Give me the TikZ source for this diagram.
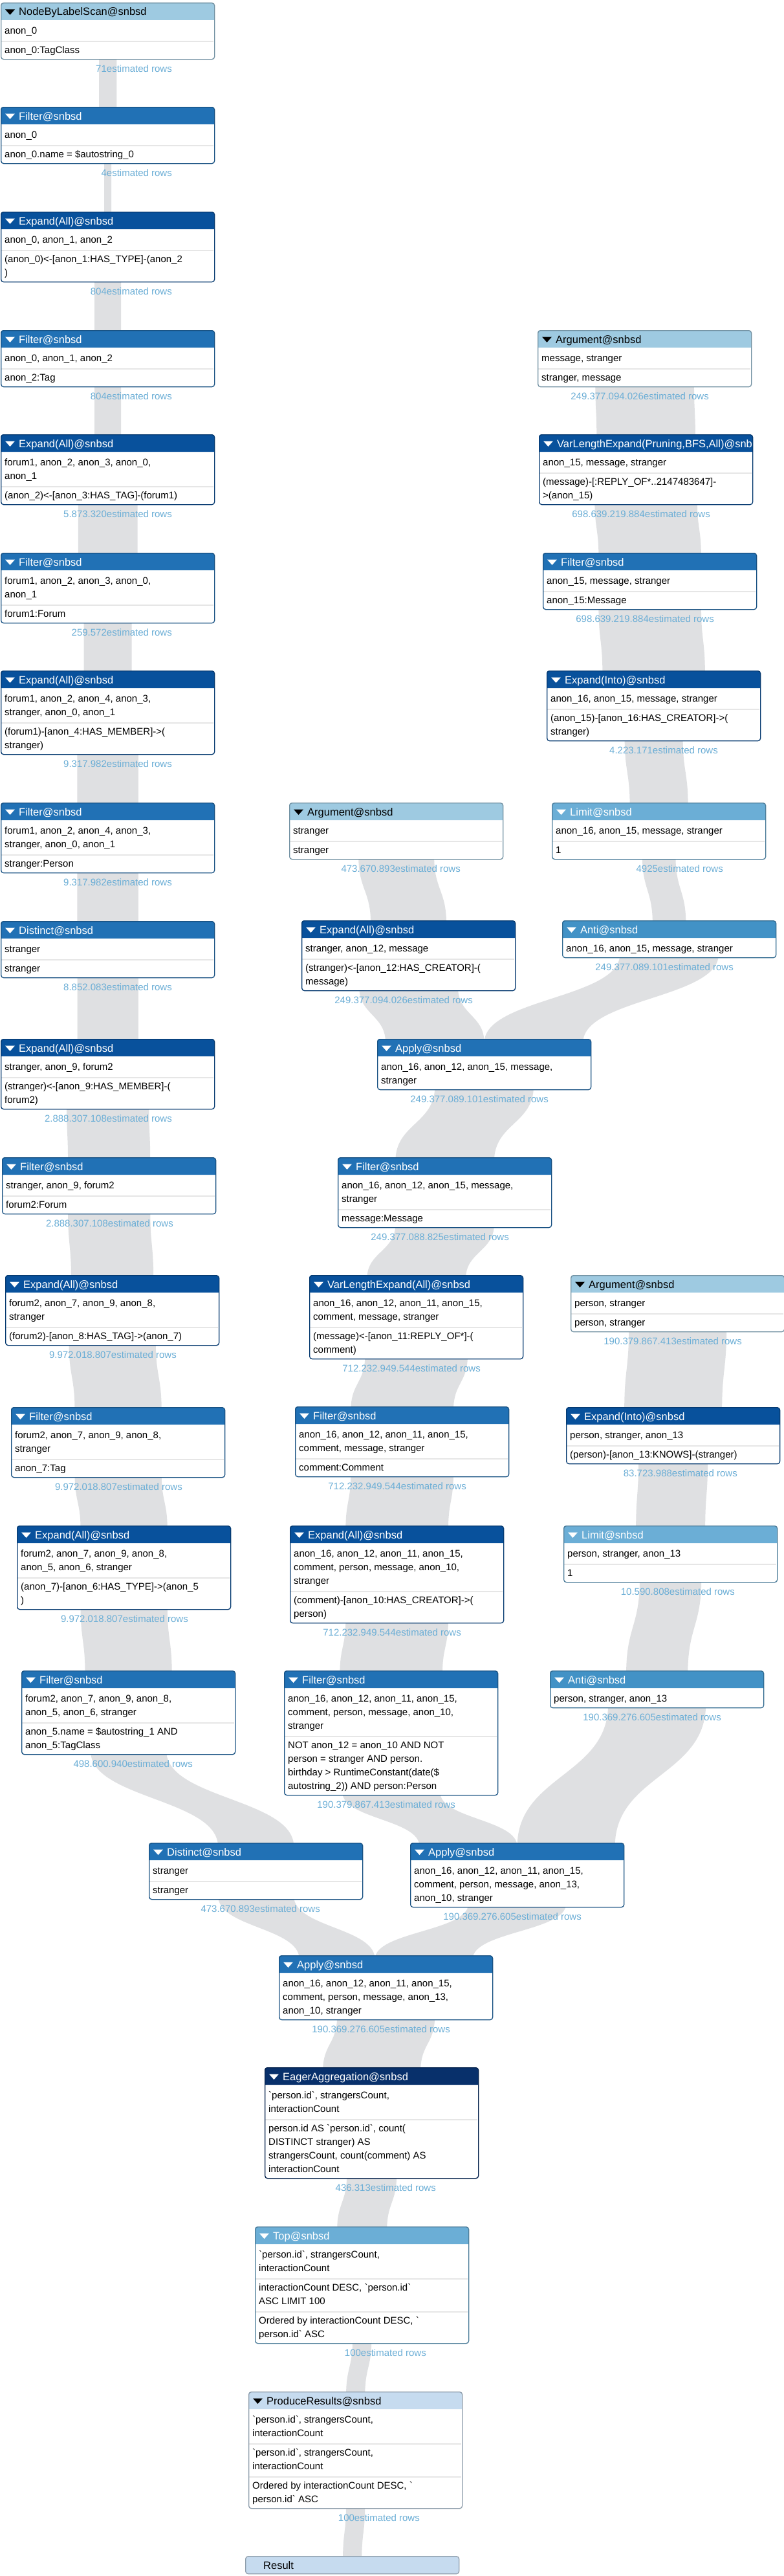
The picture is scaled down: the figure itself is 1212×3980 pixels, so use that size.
\documentclass[tikz,border=0pt]{standalone}
\usepackage{fontspec}
\newfontfamily\uifont{Liberation Sans}
\usetikzlibrary{calc}
\pgfdeclarelayer{bg}
\pgfdeclarelayer{pipes}
\pgfdeclarelayer{boxbg}
\pgfsetlayers{bg,pipes,boxbg,main}
\definecolor{cArg}{HTML}{9ECAE1}
\definecolor{cLim}{HTML}{6BAED6}
\definecolor{cAnti}{HTML}{4292C6}
\definecolor{cFil}{HTML}{2171B5}
\definecolor{cExp}{HTML}{08519C}
\definecolor{cAgg}{HTML}{08306B}
\definecolor{cPR}{HTML}{C6DBEF}
\definecolor{cPipe}{HTML}{DFE0E2}
\definecolor{cLbl}{HTML}{6BAED6}
\definecolor{cDiv}{HTML}{E6E6E6}
\newcommand\bodyfont{\uifont\fontsize{15}{21}\selectfont}
\newcommand\titlefont{\uifont\fontsize{16.5}{20}\selectfont}
\newcommand\bt{\textasciigrave}
\tikzset{
  divline/.style={draw=cDiv, line width=1.5pt},
  boxtext/.style={anchor=north west, inner sep=0pt, align=left, font=\bodyfont, text=black},
  rowlabel/.style={anchor=base east, inner sep=0pt, font=\bodyfont, text=cLbl},
  titletext/.style={anchor=base west, inner sep=0pt, font=\titlefont},
  opframe/.style={line width=1.3pt, rounded corners=4pt, inner sep=0pt, minimum width=330pt, anchor=north west},
}
% box macros
\newcommand\opstart[6]{%
  \xdef\opName{#1}\xdef\opX{#2}\xdef\opTop{#3}\xdef\opFill{#4}%
  \pgfmathsetmacro\tmpv{#3+27}\xdef\opCur{\tmpv}\xdef\opFirst{1}%
  \begin{scope}
    \clip (#2,#3) rectangle ++(330,27);
    \node[titletext, text=#5] at (#2+28,#3+20) {#6};
  \end{scope}
  \fill[fill=#5] (#2+7,#3+10.5) -- (#2+22,#3+10.5) -- (#2+14.5,#3+19) -- cycle;
}
\newcommand\oprow[2]{%
  \ifnum\opFirst=0
    \draw[divline] (\opX+1,\opCur+3) -- (\opX+329,\opCur+3);
  \fi
  \xdef\opFirst{0}%
  \node[boxtext] at (\opX+6,\opCur+6.3) {\strut #2};
  \pgfmathsetmacro\tmpv{\opCur+21*#1+9}\xdef\opCur{\tmpv}%
}
\newcommand\opend[1]{%
  \pgfmathsetmacro\opH{\opCur-\opTop}%
  \begin{pgfonlayer}{boxbg}
    \fill[white, rounded corners=4pt] (\opX,\opTop) rectangle ++(330,\opH);
    \fill[fill=\opFill, rounded corners=4pt] (\opX,\opTop+27) -- (\opX,\opTop) -- (\opX+330,\opTop) -- (\opX+330,\opTop+27);
  \end{pgfonlayer}
  \node[opframe, draw=\opFill!72!black, minimum height=\opH pt] (\opName) at (\opX,\opTop) {};
  \node[rowlabel] at (\opX+265,\opCur+20) {#1};
}
% pipes: source, target, width, left offset of band at target (relative to target centre)
\newcommand\pipe[4]{%
  \pgfmathsetmacro\pw{#3}\pgfmathsetmacro\po{#4}\pgfmathsetmacro\pe{#4+#3}%
  \begin{pgfonlayer}{pipes}
  \path[fill=cPipe] let \p1=(#1.south), \p2=(#2.north), \p3=($(#1.south)!0.5!(#2.north)$) in
    ({\x1-0.5*\pw pt},{\y1+6pt}) .. controls ({\x1-0.5*\pw pt},{\y3}) and ({\x2+\po pt},{\y3}) .. ({\x2+\po pt},{\y2-6pt})
    -- ({\x2+\pe pt},{\y2-6pt}) .. controls ({\x2+\pe pt},{\y3}) and ({\x1+0.5*\pw pt},{\y3}) .. ({\x1+0.5*\pw pt},{\y1+6pt}) -- cycle;
  \end{pgfonlayer}}
\newcommand\spipe[3]{\pipe{#1}{#2}{#3}{-(#3)/2}}
\begin{document}
\begin{tikzpicture}[x=1pt,y=-1pt]
\begin{pgfonlayer}{bg}
\fill[white] (0,0) rectangle (1212,3980);
\end{pgfonlayer}
\useasboundingbox (0,0) rectangle (1212,3980);

% ---------------- left column
\opstart{b1}{1}{4}{cArg}{black}{NodeByLabelScan@snbsd}
\oprow{1}{anon\_0}
\oprow{1}{anon\_0:TagClass}
\opend{71estimated rows}

\opstart{b2}{1}{165}{cFil}{white}{Filter@snbsd}
\oprow{1}{anon\_0}
\oprow{1}{anon\_0.name = \$autostring\_0}
\opend{4estimated rows}

\opstart{b3}{1}{327}{cExp}{white}{Expand(All)@snbsd}
\oprow{1}{anon\_0, anon\_1, anon\_2}
\oprow{2}{(anon\_0)<-[anon\_1:HAS\_TYPE]-(anon\_2\\)}
\opend{804estimated rows}

\opstart{b4}{1}{510}{cFil}{white}{Filter@snbsd}
\oprow{1}{anon\_0, anon\_1, anon\_2}
\oprow{1}{anon\_2:Tag}
\opend{804estimated rows}

\opstart{b5}{1}{671}{cExp}{white}{Expand(All)@snbsd}
\oprow{2}{forum1, anon\_2, anon\_3, anon\_0,\\anon\_1}
\oprow{1}{(anon\_2)<-[anon\_3:HAS\_TAG]-(forum1)}
\opend{5.873.320estimated rows}

\opstart{b6}{1}{854}{cFil}{white}{Filter@snbsd}
\oprow{2}{forum1, anon\_2, anon\_3, anon\_0,\\anon\_1}
\oprow{1}{forum1:Forum}
\opend{259.572estimated rows}

\opstart{b7}{1}{1036}{cExp}{white}{Expand(All)@snbsd}
\oprow{2}{forum1, anon\_2, anon\_4, anon\_3,\\stranger, anon\_0, anon\_1}
\oprow{2}{(forum1)-[anon\_4:HAS\_MEMBER]->(\\stranger)}
\opend{9.317.982estimated rows}

\opstart{b8}{1}{1240}{cFil}{white}{Filter@snbsd}
\oprow{2}{forum1, anon\_2, anon\_4, anon\_3,\\stranger, anon\_0, anon\_1}
\oprow{1}{stranger:Person}
\opend{9.317.982estimated rows}

\opstart{b9}{1}{1423}{cFil}{white}{Distinct@snbsd}
\oprow{1}{stranger}
\oprow{1}{stranger}
\opend{8.852.083estimated rows}

\opstart{b10}{1}{1605}{cExp}{white}{Expand(All)@snbsd}
\oprow{1}{stranger, anon\_9, forum2}
\oprow{2}{(stranger)<-[anon\_9:HAS\_MEMBER]-(\\forum2)}
\opend{2.888.307.108estimated rows}

\opstart{b11}{3}{1788}{cFil}{white}{Filter@snbsd}
\oprow{1}{stranger, anon\_9, forum2}
\oprow{1}{forum2:Forum}
\opend{2.888.307.108estimated rows}

\opstart{b12}{8}{1970}{cExp}{white}{Expand(All)@snbsd}
\oprow{2}{forum2, anon\_7, anon\_9, anon\_8,\\stranger}
\oprow{1}{(forum2)-[anon\_8:HAS\_TAG]->(anon\_7)}
\opend{9.972.018.807estimated rows}

\opstart{b13}{17}{2174}{cFil}{white}{Filter@snbsd}
\oprow{2}{forum2, anon\_7, anon\_9, anon\_8,\\stranger}
\oprow{1}{anon\_7:Tag}
\opend{9.972.018.807estimated rows}

\opstart{b14}{26}{2357}{cExp}{white}{Expand(All)@snbsd}
\oprow{2}{forum2, anon\_7, anon\_9, anon\_8,\\anon\_5, anon\_6, stranger}
\oprow{2}{(anon\_7)-[anon\_6:HAS\_TYPE]->(anon\_5\\)}
\opend{9.972.018.807estimated rows}

\opstart{b15}{33}{2581}{cFil}{white}{Filter@snbsd}
\oprow{2}{forum2, anon\_7, anon\_9, anon\_8,\\anon\_5, anon\_6, stranger}
\oprow{2}{anon\_5.name = \$autostring\_1 AND\\anon\_5:TagClass}
\opend{498.600.940estimated rows}

\opstart{b16}{230}{2847}{cFil}{white}{Distinct@snbsd}
\oprow{1}{stranger}
\oprow{1}{stranger}
\opend{473.670.893estimated rows}

% ---------------- middle column
\opstart{m1}{447}{1240}{cArg}{black}{Argument@snbsd}
\oprow{1}{stranger}
\oprow{1}{stranger}
\opend{473.670.893estimated rows}

\opstart{m2}{466}{1422}{cExp}{white}{Expand(All)@snbsd}
\oprow{1}{stranger, anon\_12, message}
\oprow{2}{(stranger)<-[anon\_12:HAS\_CREATOR]-(\\message)}
\opend{249.377.094.026estimated rows}

\opstart{m3}{583}{1605}{cFil}{white}{Apply@snbsd}
\oprow{2}{anon\_16, anon\_12, anon\_15, message,\\stranger}
\opend{249.377.089.101estimated rows}

\opstart{m4}{522}{1788}{cFil}{white}{Filter@snbsd}
\oprow{2}{anon\_16, anon\_12, anon\_15, message,\\stranger}
\oprow{1}{message:Message}
\opend{249.377.088.825estimated rows}

\opstart{m5}{478}{1970}{cExp}{white}{VarLengthExpand(All)@snbsd}
\oprow{2}{anon\_16, anon\_12, anon\_11, anon\_15,\\comment, message, stranger}
\oprow{2}{(message)<-[anon\_11:REPLY\_OF*]-(\\comment)}
\opend{712.232.949.544estimated rows}

\opstart{m6}{456}{2173}{cFil}{white}{Filter@snbsd}
\oprow{2}{anon\_16, anon\_12, anon\_11, anon\_15,\\comment, message, stranger}
\oprow{1}{comment:Comment}
\opend{712.232.949.544estimated rows}

\opstart{m7}{448}{2357}{cExp}{white}{Expand(All)@snbsd}
\oprow{3}{anon\_16, anon\_12, anon\_11, anon\_15,\\comment, person, message, anon\_10,\\stranger}
\oprow{2}{(comment)-[anon\_10:HAS\_CREATOR]->(\\person)}
\opend{712.232.949.544estimated rows}

\opstart{m8}{439}{2581}{cFil}{white}{Filter@snbsd}
\oprow{3}{anon\_16, anon\_12, anon\_11, anon\_15,\\comment, person, message, anon\_10,\\stranger}
\oprow{4}{NOT anon\_12 = anon\_10 AND NOT\\person = stranger AND person.\\birthday > RuntimeConstant(date(\$\\autostring\_2)) AND person:Person}
\opend{190.379.867.413estimated rows}

% ---------------- right column
\opstart{r1}{831}{510}{cArg}{black}{Argument@snbsd}
\oprow{1}{message, stranger}
\oprow{1}{stranger, message}
\opend{249.377.094.026estimated rows}

\opstart{r2}{833}{671}{cExp}{white}{VarLengthExpand(Pruning,BFS,All)@snbsd}
\oprow{1}{anon\_15, message, stranger}
\oprow{2}{(message)-[:REPLY\_OF*..2147483647]-\\>(anon\_15)}
\opend{698.639.219.884estimated rows}

\opstart{r3}{839}{854}{cFil}{white}{Filter@snbsd}
\oprow{1}{anon\_15, message, stranger}
\oprow{1}{anon\_15:Message}
\opend{698.639.219.884estimated rows}

\opstart{r4}{845}{1036}{cExp}{white}{Expand(Into)@snbsd}
\oprow{1}{anon\_16, anon\_15, message, stranger}
\oprow{2}{(anon\_15)-[anon\_16:HAS\_CREATOR]->(\\stranger)}
\opend{4.223.171estimated rows}

\opstart{r5}{853}{1240}{cLim}{white}{Limit@snbsd}
\oprow{1}{anon\_16, anon\_15, message, stranger}
\oprow{1}{1}
\opend{4925estimated rows}

\opstart{r6}{869}{1422}{cAnti}{white}{Anti@snbsd}
\oprow{1}{anon\_16, anon\_15, message, stranger}
\opend{249.377.089.101estimated rows}

\opstart{r7}{882}{1970}{cArg}{black}{Argument@snbsd}
\oprow{1}{person, stranger}
\oprow{1}{person, stranger}
\opend{190.379.867.413estimated rows}

\opstart{r8}{875}{2174}{cExp}{white}{Expand(Into)@snbsd}
\oprow{1}{person, stranger, anon\_13}
\oprow{1}{(person)-[anon\_13:KNOWS]-(stranger)}
\opend{83.723.988estimated rows}

\opstart{r9}{871}{2357}{cLim}{white}{Limit@snbsd}
\oprow{1}{person, stranger, anon\_13}
\oprow{1}{1}
\opend{10.590.808estimated rows}

\opstart{r10}{850}{2581}{cAnti}{white}{Anti@snbsd}
\oprow{1}{person, stranger, anon\_13}
\opend{190.369.276.605estimated rows}

% ---------------- bottom
\opstart{a2}{634}{2847}{cFil}{white}{Apply@snbsd}
\oprow{3}{anon\_16, anon\_12, anon\_11, anon\_15,\\comment, person, message, anon\_13,\\anon\_10, stranger}
\opend{190.369.276.605estimated rows}

\opstart{a3}{431}{3021}{cFil}{white}{Apply@snbsd}
\oprow{3}{anon\_16, anon\_12, anon\_11, anon\_15,\\comment, person, message, anon\_13,\\anon\_10, stranger}
\opend{190.369.276.605estimated rows}

\opstart{ea}{409}{3194}{cAgg}{white}{EagerAggregation@snbsd}
\oprow{2}{\bt person.id\bt, strangersCount,\\interactionCount}
\oprow{4}{person.id AS \bt person.id\bt, count(\\DISTINCT stranger) AS\\strangersCount, count(comment) AS\\interactionCount}
\opend{436.313estimated rows}

\opstart{tp}{394}{3440}{cLim}{white}{Top@snbsd}
\oprow{2}{\bt person.id\bt, strangersCount,\\interactionCount}
\oprow{2}{interactionCount DESC, \bt person.id\bt\\ASC LIMIT 100}
\oprow{2}{Ordered by interactionCount DESC, \bt\\person.id\bt{} ASC}
\opend{100estimated rows}

\opstart{pr}{384}{3695}{cPR}{black}{ProduceResults@snbsd}
\oprow{2}{\bt person.id\bt, strangersCount,\\interactionCount}
\oprow{2}{\bt person.id\bt, strangersCount,\\interactionCount}
\oprow{2}{Ordered by interactionCount DESC, \bt\\person.id\bt{} ASC}
\opend{100estimated rows}

\node[opframe, draw=cPR!72!black, fill=cPR, minimum height=27pt] (res) at (379,3949) {};
\node[titletext, text=black] (restext) at (407,3969) {Result};

% ---------------- pipes
\spipe{b1}{b2}{27.3}
\spipe{b2}{b3}{10.9}
\spipe{b3}{b4}{41.1}
\spipe{b4}{b5}{41.1}
\spipe{b5}{b6}{91.8}
\spipe{b6}{b7}{74.1}
\spipe{b7}{b8}{94.5}
\spipe{b8}{b9}{94.5}
\spipe{b9}{b10}{94.2}
\spipe{b10}{b11}{127.2}
\spipe{b11}{b12}{127.2}
\spipe{b12}{b13}{134.2}
\spipe{b13}{b14}{134.2}
\spipe{b14}{b15}{134.2}
\spipe{b15}{b16}{117.2}

\spipe{m1}{m2}{116.9}
\pipe{m2}{m3}{152.6}{-152.6}
\pipe{r6}{m3}{152.6}{0}
\spipe{m3}{m4}{152.6}
\spipe{m4}{m5}{152.6}
\spipe{m5}{m6}{158.6}
\spipe{m6}{m7}{158.6}
\spipe{m7}{m8}{158.6}
\pipe{m8}{a2}{151.0}{-151.0}
\pipe{r10}{a2}{151.0}{0}

\spipe{r1}{r2}{152.6}
\spipe{r2}{r3}{158.5}
\spipe{r3}{r4}{158.5}
\spipe{r4}{r5}{90.0}
\spipe{r5}{r6}{51.5}
\spipe{r7}{r8}{151.0}
\spipe{r8}{r9}{107.0}
\spipe{r9}{r10}{95.2}

\pipe{b16}{a3}{116.9}{-133.95}
\pipe{a2}{a3}{151.0}{-17.05}
\spipe{a3}{ea}{151.0}
\spipe{ea}{tp}{77.0}
\spipe{tp}{pr}{29.2}
\spipe{pr}{res}{29.2}
\end{tikzpicture}
\end{document}
